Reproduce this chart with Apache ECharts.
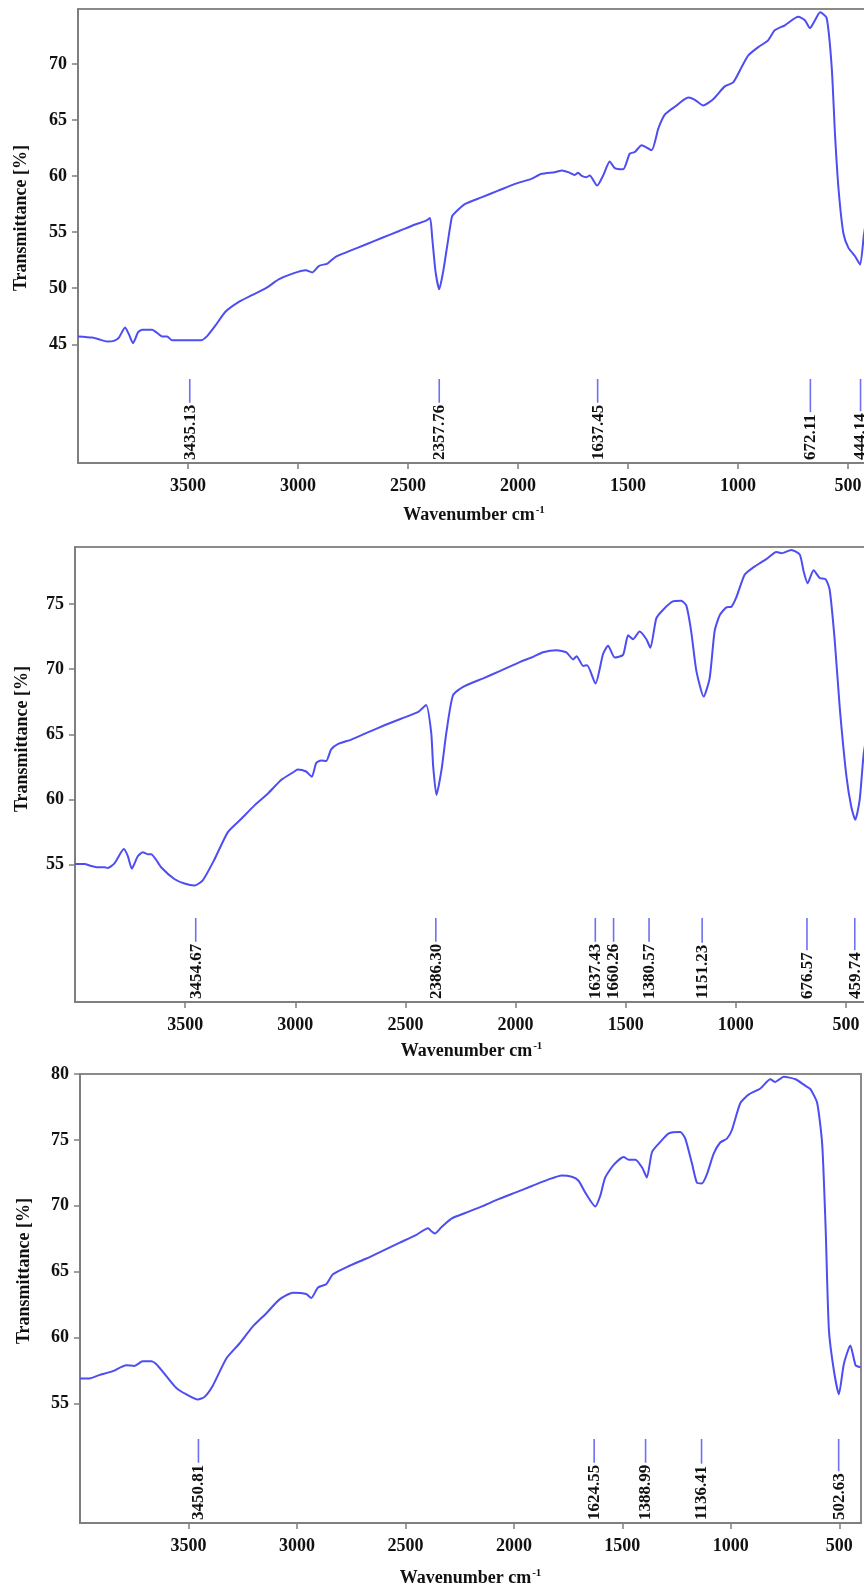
<!DOCTYPE html>
<html>
<head>
<meta charset="utf-8">
<script src="https://cdn.jsdelivr.net/npm/echarts@6/dist/echarts.min.js"></script>
<style>
  html, body { margin: 0; padding: 0; background: #ffffff; }
  #chart { width: 864px; height: 1589px; }
</style>
</head>
<body>
<div id="chart"></div>
<script>
// ---------- DATA ----------
// x tick labels (wavenumber, cm-1)
const xTicks = [500, 1000, 1500, 2000, 2500, 3000, 3500];

// y tick labels per panel
const yTicks1 = [45, 50, 55, 60, 65, 70];
const yTicks2 = [55, 60, 65, 70, 75];
const yTicks3 = [55, 60, 65, 70, 75, 80];

// spectrum 1: [wavenumber, transmittance %]
const spectrum1 = [
  [4000,45.7],[3936,45.6],[3906,45.45],[3867,45.25],[3837,45.3],[3814,45.6],[3786,46.5],[3769,45.9],
  [3750,45.1],[3726,46.1],[3708,46.3],[3663,46.3],[3640,46.0],[3618,45.7],[3595,45.7],[3572,45.35],
  [3512,45.35],[3442,45.35],[3412,45.75],[3374,46.7],[3330,47.9],[3267,48.8],[3207,49.4],[3146,50.0],
  [3086,50.8],[3025,51.3],[2965,51.6],[2935,51.4],[2904,52.0],[2866,52.2],[2829,52.8],[2768,53.3],
  [2692,53.9],[2617,54.5],[2540,55.1],[2464,55.7],[2420,56.0],[2400,56.25],[2390,54.5],[2375,51.5],
  [2358,49.9],[2340,51.5],[2320,54.0],[2300,56.4],[2283,56.8],[2242,57.5],[2166,58.1],[2090,58.7],
  [2014,59.3],[1939,59.75],[1893,60.2],[1833,60.35],[1800,60.5],[1772,60.35],[1742,60.1],[1727,60.3],
  [1712,60.05],[1689,59.9],[1674,60.05],[1640,59.15],[1613,60.05],[1583,61.3],[1560,60.7],[1522,60.6],
  [1492,62.0],[1469,62.15],[1438,62.75],[1393,62.3],[1362,64.25],[1332,65.5],[1286,66.2],[1226,67.0],
  [1196,66.8],[1158,66.3],[1113,66.85],[1060,68.0],[1022,68.35],[984,69.7],[954,70.75],[908,71.5],
  [863,72.1],[833,73.0],[787,73.45],[726,74.2],[696,73.9],[673,73.2],[650,73.9],[627,74.6],
  [597,74.1],[574,69.7],[559,63.7],[543,58.85],[521,54.9],[498,53.6],[468,52.85],[445,52.1],
  [428,54.7],[410,57.0]
];

// spectrum 2
const spectrum2 = [
  [4000,55.05],[3957,55.05],[3927,54.9],[3896,54.8],[3866,54.8],[3851,54.75],[3821,55.1],[3778,56.2],
  [3760,55.65],[3742,54.7],[3715,55.65],[3692,55.95],[3670,55.8],[3654,55.8],[3609,54.8],[3549,53.9],
  [3503,53.55],[3458,53.4],[3420,53.8],[3367,55.4],[3306,57.5],[3246,58.5],[3185,59.55],[3125,60.45],
  [3064,61.5],[3004,62.15],[2990,62.3],[2951,62.15],[2925,61.75],[2905,62.8],[2883,63.0],[2860,62.95],
  [2837,63.85],[2807,64.25],[2746,64.6],[2671,65.15],[2595,65.7],[2520,66.2],[2444,66.7],[2406,67.25],
  [2383,65.15],[2374,62.55],[2359,60.35],[2336,62.3],[2314,65.15],[2284,68.0],[2238,68.65],[2147,69.3],
  [2072,69.85],[1981,70.55],[1920,70.95],[1875,71.3],[1814,71.45],[1769,71.3],[1739,70.75],[1723,71.0],
  [1693,70.25],[1675,70.3],[1637,68.9],[1603,71.15],[1580,71.8],[1550,70.9],[1512,71.1],[1489,72.6],
  [1467,72.3],[1437,72.9],[1406,72.3],[1388,71.65],[1361,73.9],[1331,74.55],[1286,75.2],[1248,75.25],
  [1225,74.9],[1203,72.95],[1179,69.85],[1146,67.9],[1119,69.3],[1096,72.95],[1073,74.15],[1043,74.75],
  [1020,74.8],[997,75.55],[960,77.25],[922,77.8],[862,78.45],[816,79.0],[793,78.9],[748,79.15],
  [710,78.8],[692,77.5],[674,76.6],[647,77.6],[619,77.0],[592,76.9],[574,76.1],[551,72.2],
  [528,67.0],[498,61.8],[476,59.45],[458,58.45],[438,59.95],[420,63.45],[405,65.0]
];

// spectrum 3
const spectrum3 = [
  [4000,56.9],[3957,56.9],[3911,57.15],[3849,57.45],[3787,57.9],[3749,57.85],[3711,58.2],[3672,58.2],
  [3649,58.0],[3603,57.1],[3557,56.2],[3511,55.7],[3457,55.3],[3426,55.5],[3388,56.35],[3326,58.4],
  [3265,59.55],[3203,60.85],[3141,61.85],[3080,62.9],[3019,63.4],[2957,63.3],[2934,63.0],[2903,63.8],
  [2865,64.05],[2834,64.8],[2757,65.45],[2680,66.0],[2603,66.6],[2526,67.2],[2449,67.8],[2396,68.3],
  [2379,68.05],[2364,67.9],[2333,68.4],[2286,69.05],[2225,69.45],[2148,69.95],[2071,70.5],[1994,71.0],
  [1917,71.5],[1840,72.0],[1779,72.3],[1733,72.2],[1702,71.9],[1671,71.0],[1625,69.95],[1602,70.75],
  [1579,72.15],[1540,73.1],[1494,73.7],[1471,73.5],[1440,73.5],[1409,72.9],[1387,72.15],[1363,74.1],
  [1325,74.85],[1286,75.5],[1233,75.6],[1210,75.1],[1179,73.2],[1156,71.75],[1133,71.7],[1110,72.4],
  [1079,73.95],[1049,74.8],[1018,75.1],[995,75.75],[956,77.8],[917,78.45],[864,78.9],[818,79.6],
  [795,79.4],[756,79.8],[702,79.6],[656,79.1],[633,78.85],[602,77.8],[579,74.7],[563,68.3],
  [548,60.6],[525,57.5],[502,55.7],[479,58.0],[449,59.4],[425,57.9],[402,57.75]
];

// peak marker positions (as drawn) and their printed labels
const peakPos1 = [3492, 2358, 1638, 671, 443];
const peakLab1 = ['3435.13', '2357.76', '1637.45', '672.11', '444.14'];
const peakPos2 = [3452, 2362, 1638, 1555, 1394, 1153, 677, 460];
const peakLab2 = ['3454.67', '2386.30', '1637.43', '1660.26', '1380.57', '1151.23', '676.57', '459.74'];
const peakPos3 = [3454, 1630, 1393, 1135, 503];
const peakLab3 = ['3450.81', '1624.55', '1388.99', '1136.41', '502.63'];

// y ranges per panel
const yRange1 = [34.41, 74.9];
const yRange2 = [44.46, 79.38];
const yRange3 = [45.93, 80];

// ---------- STYLE ----------
const FONT = '"Liberation Serif", "Times New Roman", serif';
const LINE_COLOR = '#4d4df2';
const MARK_COLOR = '#7070f4';
const AXIS_COLOR = '#7f7f7f';

const measureCtx = document.createElement('canvas').getContext('2d');
const PEAK_FONT = 'bold 17px ' + FONT;
measureCtx.font = PEAK_FONT;
function textWidth(s) { return measureCtx.measureText(s).width; }

const grids = [
  { left: 78, top: 9, width: 792, height: 454 },
  { left: 75, top: 547, width: 793, height: 455 },
  { left: 80, top: 1074, width: 781, height: 449 }
];
const nameGaps = [42, 39, 45];
const yRanges = [yRange1, yRange2, yRange3];
const yTickSets = [yTicks1, yTicks2, yTicks3];
const spectra = [spectrum1, spectrum2, spectrum3];
const peakPositions = [peakPos1, peakPos2, peakPos3];
const peakLabels = [peakLab1, peakLab2, peakLab3];

const option = {
  animation: false,
  backgroundColor: '#ffffff',
  grid: grids.map(g => Object.assign({
    show: true, borderColor: '#8a8a8a', borderWidth: 2, backgroundColor: 'transparent',
    containLabel: false, outerBoundsMode: 'none'
  }, g)),
  xAxis: grids.map((g, i) => ({
    gridIndex: i,
    type: 'value',
    min: 400,
    max: 4000,
    inverse: true,
    splitLine: { show: false },
    axisLine: { show: true, onZero: false, lineStyle: { color: AXIS_COLOR, width: 2 } },
    axisTick: { show: true, length: 6, customValues: xTicks, lineStyle: { color: AXIS_COLOR, width: 1.5 } },
    axisLabel: {
      customValues: xTicks, margin: 14, color: '#111', fontSize: 18, fontWeight: 'bold', fontFamily: FONT,
      formatter: v => String(v)
    },
    name: '{a|Wavenumber cm}{b|-1}',
    nameLocation: 'middle',
    nameGap: nameGaps[i],
    nameTextStyle: {
      rich: {
        a: { fontSize: 18, fontWeight: 'bold', fontFamily: FONT, color: '#111', lineHeight: 20 },
        b: { fontSize: 11, fontWeight: 'bold', fontFamily: FONT, color: '#111', verticalAlign: 'top', lineHeight: 12, padding: [0, 0, 0, 1] }
      }
    }
  })),
  yAxis: grids.map((g, i) => ({
    gridIndex: i,
    type: 'value',
    min: yRanges[i][0],
    max: yRanges[i][1],
    splitLine: { show: false },
    axisLine: { show: true, onZero: false, lineStyle: { color: AXIS_COLOR, width: 2 } },
    axisTick: { show: true, length: 6, customValues: yTickSets[i], lineStyle: { color: AXIS_COLOR, width: 1.5 } },
    axisLabel: {
      customValues: yTickSets[i], margin: 11, color: '#111', fontSize: 18, fontWeight: 'bold', fontFamily: FONT,
      formatter: v => String(v)
    }
  })),
  graphic: [
    { x: 21, y: 218 }, { x: 22, y: 739 }, { x: 24, y: 1271 }
  ].map(p => ({
    type: 'text',
    x: p.x, y: p.y,
    rotation: Math.PI / 2,
    style: { text: 'Transmittance [%]', font: 'bold 18px ' + FONT, fill: '#111', align: 'center', verticalAlign: 'middle' }
  })),
  series: []
};

spectra.forEach((data, i) => {
  option.series.push({
    type: 'line',
    xAxisIndex: i,
    yAxisIndex: i,
    data: data,
    showSymbol: false,
    smooth: 0.2,
    lineStyle: { color: LINE_COLOR, width: 2 },
    clip: true,
    z: 3
  });
  const labels = peakLabels[i];
  option.series.push({
    type: 'custom',
    xAxisIndex: i,
    yAxisIndex: i,
    data: peakPositions[i].map(w => [w, yRanges[i][0]]),
    clip: false,
    z: 4,
    renderItem: function (params, api) {
      const cs = params.coordSys;
      const x = api.coord([api.value(0), api.value(1)])[0];
      const bottom = cs.y + cs.height;
      const label = labels[params.dataIndex];
      const tw = textWidth(label);
      const textBottom = bottom - 3;
      return {
        type: 'group',
        children: [
          {
            type: 'line',
            shape: { x1: x, y1: bottom - 84, x2: x, y2: textBottom - tw - 2 },
            style: { stroke: MARK_COLOR, lineWidth: 1.6 }
          },
          {
            type: 'text',
            x: x + 0.5,
            y: textBottom,
            rotation: Math.PI / 2,
            style: { text: label, font: PEAK_FONT, fill: '#111', align: 'left', verticalAlign: 'middle' }
          }
        ]
      };
    }
  });
});

const chart = echarts.init(document.getElementById('chart'), null, { renderer: 'canvas', width: 864, height: 1589 });
chart.setOption(option);
</script>
</body>
</html>
